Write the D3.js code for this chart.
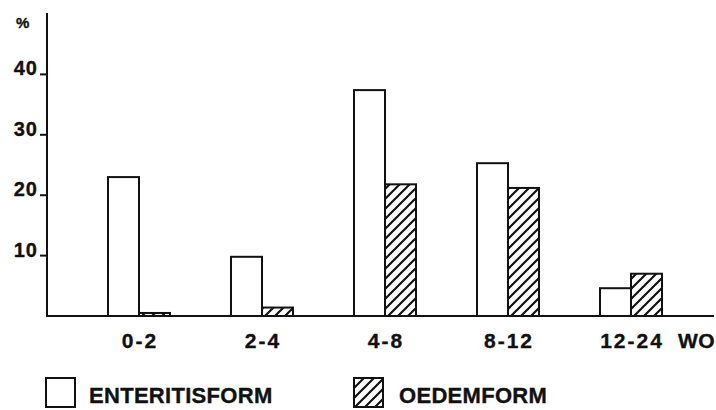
<!DOCTYPE html>
<html>
<head>
<meta charset="utf-8">
<script src="https://cdn.jsdelivr.net/npm/d3@7"></script>
<style>
  body { margin: 0; background: #fff; }
  text { font-family: "Liberation Sans", Arial, sans-serif; font-weight: bold; fill: #111; stroke: #111; stroke-width: 0.35; }
</style>
</head>
<body>
<div id="chart"></div>
<script>
// age groups (weeks) and % per form
var categories = ["0-2", "2-4", "4-8", "8-12", "12-24"];
var series = ["ENTERITISFORM", "OEDEMFORM"];
var enteritis = [23.0, 9.8, 37.4, 25.3, 4.6];
var oedem = [0.5, 1.4, 21.8, 21.2, 7.0];
var yTicks = [10, 20, 30, 40];

var width = 716, height = 410;
var ink = "#111";

var svg = d3.select("#chart").append("svg")
    .attr("width", width)
    .attr("height", height);

// hatch pattern for the oedem bars
var defs = svg.append("defs");
defs.append("pattern")
    .attr("id", "hatch")
    .attr("patternUnits", "userSpaceOnUse")
    .attr("width", 10)
    .attr("height", 10)
  .append("path")
    .attr("d", "M-1,1 l2,-2 M0,10 l10,-10 M9,11 l2,-2")
    .attr("stroke", ink)
    .attr("stroke-width", 2.2);

var y = d3.scaleLinear().domain([0, 50]).range([316, 14]);
var x = d3.scaleBand().domain(categories).range([77.5, 692.5])
    .paddingInner(61 / 123).paddingOuter(61 / 246);
var xs = d3.scaleBand().domain(series).range([0, x.bandwidth()]);

var rows = categories.map(function(c, i) {
    return {cat: c, values: [
        {key: series[0], v: enteritis[i]},
        {key: series[1], v: oedem[i]}
    ]};
});

// bars
var groups = svg.append("g").selectAll("g.grp")
    .data(rows)
    .enter().append("g")
    .attr("transform", function(d) { return "translate(" + x(d.cat) + ",0)"; });

groups.selectAll("rect")
    .data(function(d) { return d.values; })
    .enter().append("rect")
    .attr("x", function(d) { return xs(d.key); })
    .attr("y", function(d) { return y(d.v); })
    .attr("width", xs.bandwidth())
    .attr("height", function(d) { return y(0) - y(d.v); })
    .attr("fill", function(d) { return d.key == series[0] ? "#fff" : "url(#hatch)"; })
    .attr("stroke", ink)
    .attr("stroke-width", 2);

// y axis
var axisX = 47;
svg.append("line")
    .attr("x1", axisX).attr("x2", axisX)
    .attr("y1", 13).attr("y2", y(0))
    .attr("stroke", ink).attr("stroke-width", 2);

var ticks = svg.append("g").selectAll("g.tick")
    .data(yTicks)
    .enter().append("g")
    .attr("transform", function(d) { return "translate(0," + y(d) + ")"; });
ticks.append("line")
    .attr("x1", 40).attr("x2", axisX)
    .attr("stroke", ink).attr("stroke-width", 2);
ticks.append("text")
    .attr("x", 38)
    .attr("y", 1)
    .attr("text-anchor", "end")
    .attr("font-size", 20)
    .attr("letter-spacing", 1)
    .text(function(d) { return d; });

svg.append("text")
    .attr("x", 16).attr("y", 28)
    .attr("font-size", 15)
    .text("%");

// baseline
svg.append("line")
    .attr("x1", axisX - 1).attr("x2", 714)
    .attr("y1", y(0)).attr("y2", y(0))
    .attr("stroke", ink).attr("stroke-width", 2);

// category labels
svg.append("g").selectAll("text")
    .data(categories)
    .enter().append("text")
    .attr("x", function(d) { return x(d) + x.bandwidth() / 2 + 1; })
    .attr("y", 348)
    .attr("text-anchor", "middle")
    .attr("font-size", 21)
    .attr("letter-spacing", 2)
    .text(function(d) { return d; });

svg.append("text")
    .attr("x", 678).attr("y", 348)
    .attr("font-size", 21)
    .attr("letter-spacing", 0.5)
    .text("WO");

// legend
var legend = svg.append("g").selectAll("g.leg")
    .data(series)
    .enter().append("g")
    .attr("transform", function(d, i) { return "translate(" + [46, 354][i] + ",378)"; });
legend.append("rect")
    .attr("width", 29).attr("height", 29)
    .attr("fill", function(d, i) { return i == 0 ? "#fff" : "url(#hatch)"; })
    .attr("stroke", ink).attr("stroke-width", 2);
legend.append("text")
    .attr("x", function(d, i) { return i == 0 ? 43 : 45; })
    .attr("y", 25)
    .attr("font-size", 22)
    .attr("letter-spacing", 0.3)
    .text(function(d) { return d; });
</script>
</body>
</html>
